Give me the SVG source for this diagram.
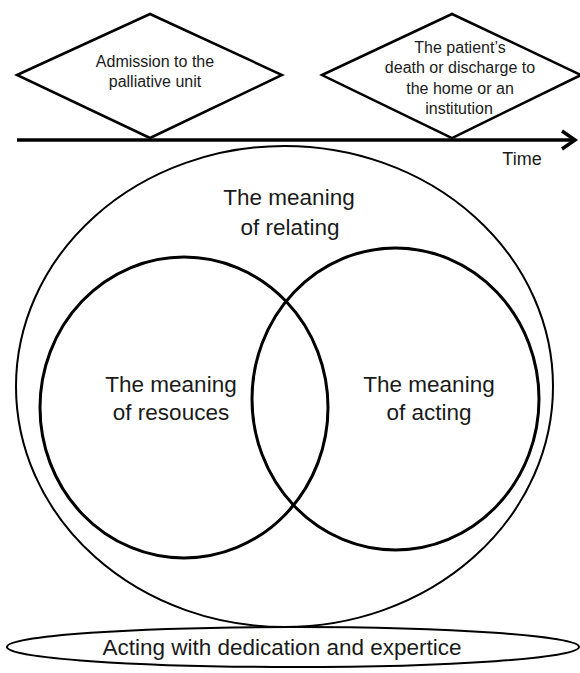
<svg xmlns="http://www.w3.org/2000/svg" width="580" height="673" viewBox="0 0 580 673">
<style>
.bg{fill:#fff}
.dia{fill:none;stroke:#000;stroke-width:2.5;stroke-linejoin:miter}
.outer{fill:none;stroke:#000;stroke-width:2}
.inner{fill:none;stroke:#000;stroke-width:3}
.axis{fill:none;stroke:#000;stroke-width:3.5}
.t{font-family:"Liberation Sans",Arial,sans-serif;fill:#1a1a1a;text-anchor:middle}
.s16{font-size:16px}
.s22{font-size:22.5px}
</style>
<rect class="bg" x="0" y="0" width="580" height="673"/>
<g id="connectors">
<path class="axis" d="M17,140 H574"/>
<path class="axis" d="M562,131 L575,140 L562,149"/>
<text class="t" x="522" y="165" style="font-size:18px">Time</text>
</g>
<g id="admission">
<polygon class="dia" points="17,75 150,14 282,75 150,138"/>
<text class="t s16" x="155" y="67">Admission to the</text>
<text class="t s16" x="155" y="87">palliative unit</text>
</g>
<g id="death">
<polygon class="dia" points="322,75 452,14 581,75 452,138"/>
<text class="t s16" x="460" y="53">The patient’s</text>
<text class="t s16" x="460" y="73">death or discharge to</text>
<text class="t s16" x="460" y="94">the home or an</text>
<text class="t s16" x="459" y="114">institution</text>
</g>
<g id="relating">
<ellipse class="outer" cx="284.5" cy="386.5" rx="268.5" ry="240.5"/>
<text class="t s22" x="289" y="205">The meaning</text>
<text class="t s22" x="290" y="235">of relating</text>
</g>
<g id="resources">
<ellipse class="inner" cx="184" cy="407.5" rx="144" ry="150.5"/>
<text class="t s22" x="171" y="392">The meaning</text>
<text class="t s22" x="171" y="420">of resouces</text>
</g>
<g id="acting">
<ellipse class="inner" cx="395.5" cy="399" rx="143.5" ry="151"/>
<text class="t s22" x="429" y="392">The meaning</text>
<text class="t s22" x="429" y="420">of acting</text>
</g>
<g id="dedication">
<ellipse class="outer" cx="293" cy="647" rx="286" ry="20"/>
<text class="t s22" x="282" y="655">Acting with dedication and expertice</text>
</g>
</svg>
